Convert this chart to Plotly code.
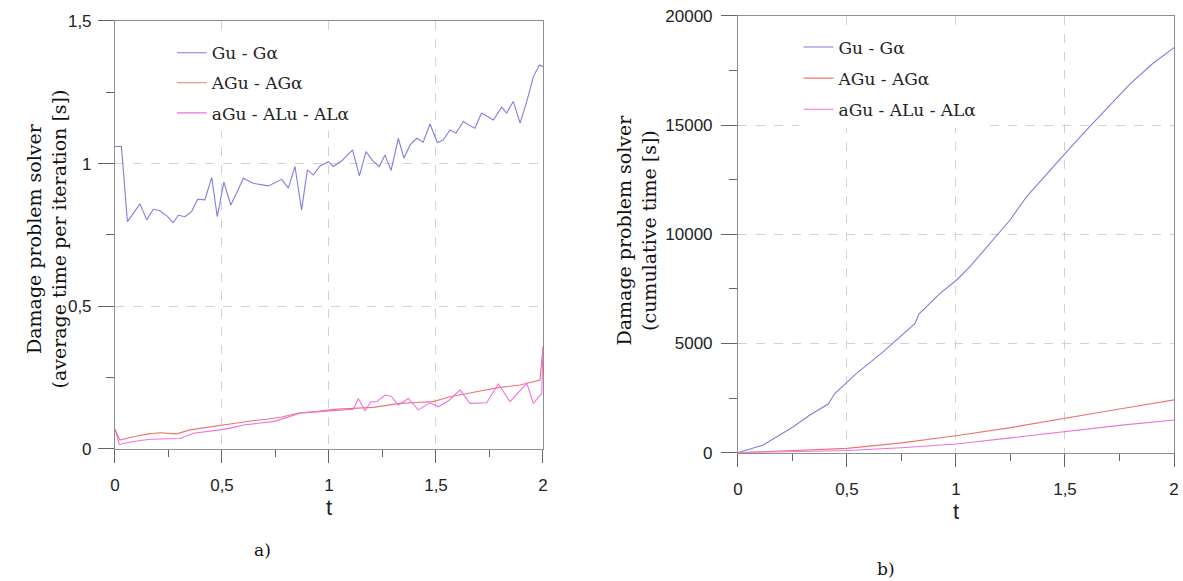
import plotly.graph_objects as go

# ---------------- data ----------------
# (a) average time per iteration
t_blue = [0, 0.03, 0.058, 0.117, 0.148, 0.179, 0.21, 0.245, 0.272, 0.296,
          0.327, 0.358, 0.386, 0.42, 0.452, 0.478, 0.509, 0.541, 0.57, 0.60,
          0.646, 0.717, 0.779, 0.81, 0.841, 0.872, 0.899, 0.927, 0.958, 0.997,
          1.02, 1.06, 1.11, 1.142, 1.173, 1.205, 1.235, 1.262, 1.29, 1.324,
          1.35, 1.379, 1.41, 1.44, 1.472, 1.506, 1.534, 1.565, 1.593, 1.628,
          1.655, 1.682, 1.713, 1.74, 1.768, 1.807, 1.83, 1.861, 1.893, 1.925,
          1.955, 1.983, 2.0]
avg_gu = [1.06, 1.06, 0.797, 0.859, 0.803, 0.840, 0.835, 0.815, 0.793, 0.819,
          0.814, 0.832, 0.875, 0.873, 0.952, 0.814, 0.935, 0.855, 0.90, 0.949,
          0.931, 0.922, 0.945, 0.914, 0.990, 0.838, 0.978, 0.960, 0.992, 1.007,
          0.990, 1.010, 1.048, 0.957, 1.042, 1.010, 0.990, 1.030, 0.976, 1.089,
          1.019, 1.066, 1.089, 1.075, 1.139, 1.074, 1.083, 1.118, 1.107, 1.148,
          1.135, 1.124, 1.177, 1.165, 1.153, 1.198, 1.177, 1.218, 1.142, 1.22,
          1.305, 1.346, 1.34]

t_red = [0, 0.023, 0.086, 0.15, 0.21, 0.288, 0.35, 0.42, 0.49, 0.55,
         0.6, 0.65, 0.709, 0.78, 0.864, 0.942, 1.02, 1.114, 1.207, 1.27,
         1.332, 1.41, 1.487, 1.565, 1.643, 1.72, 1.799, 1.893, 1.986, 2.0]
avg_agu = [0.069, 0.031, 0.043, 0.052, 0.057, 0.053, 0.067, 0.075, 0.084, 0.09,
           0.096, 0.10, 0.104, 0.112, 0.127, 0.131, 0.139, 0.142, 0.146, 0.153,
           0.160, 0.163, 0.166, 0.183, 0.195, 0.205, 0.216, 0.224, 0.242, 0.358]

t_pink = [0, 0.02, 0.086, 0.164, 0.25, 0.304, 0.366, 0.43, 0.49, 0.55,
          0.6, 0.67, 0.74, 0.8, 0.864, 0.94, 1.02, 1.114, 1.137, 1.168,
          1.195, 1.223, 1.262, 1.29, 1.324, 1.371, 1.417, 1.472, 1.511, 1.56,
          1.612, 1.659, 1.737, 1.791, 1.846, 1.924, 1.955, 1.994, 2.0]
avg_agu_alu = [0.07, 0.016, 0.026, 0.034, 0.036, 0.037, 0.055, 0.06, 0.067, 0.075,
               0.084, 0.09, 0.096, 0.11, 0.125, 0.13, 0.134, 0.139, 0.177, 0.134,
               0.165, 0.166, 0.189, 0.185, 0.154, 0.177, 0.137, 0.162, 0.148, 0.17,
               0.207, 0.160, 0.162, 0.228, 0.166, 0.230, 0.160, 0.195, 0.36]

# (b) cumulative time
t_cum_blue = [0, 0.116, 0.254, 0.33, 0.414, 0.445, 0.544, 0.667, 0.812, 0.83,
              0.927, 1.003, 1.064, 1.171, 1.248, 1.324, 1.431, 1.5, 1.6, 1.7,
              1.8, 1.9, 2.0]
cum_gu = [0, 353, 1191, 1727, 2230, 2720, 3636, 4626, 5926, 6350,
          7300, 7909, 8519, 9741, 10657, 11725, 12947, 13700, 14800, 15850,
          16900, 17800, 18550]
t_cum = [0, 0.25, 0.5, 0.75, 1.0, 1.25, 1.5, 1.75, 2.0]
cum_agu = [0, 90, 200, 450, 780, 1150, 1560, 2000, 2420]
cum_agu_alu = [0, 40, 100, 230, 400, 680, 980, 1250, 1500]

series_names = ["Gu - Gα", "AGu - AGα", "aGu - ALu - ALα"]
series_colors = ["#7f7de0", "#ef7474", "#ef72de"]

x_tickvals = [0, 0.5, 1, 1.5, 2]
x_ticktext = ["0", "0,5", "1", "1,5", "2"]
ya_tickvals = [0, 0.5, 1, 1.5]
ya_ticktext = ["0", "0,5", "1", "1,5"]
yb_tickvals = [0, 5000, 10000, 15000, 20000]
yb_ticktext = ["0", "5000", "10000", "15000", "20000"]

ytitle_a = "Damage problem solver<br>(average time per iteration [s])"
ytitle_b = "Damage problem solver<br>(cumulative time [s])"

SERIF = "DejaVu Serif"
SANS = "Liberation Sans"

fig = go.Figure()

left_data = [(t_blue, avg_gu), (t_red, avg_agu), (t_pink, avg_agu_alu)]
right_data = [(t_cum_blue, cum_gu), (t_cum, cum_agu), (t_cum, cum_agu_alu)]

for i, (tx, vy) in enumerate(left_data):
    fig.add_trace(go.Scatter(x=tx, y=vy, mode="lines", name=series_names[i],
                             line=dict(color=series_colors[i], width=1.1),
                             xaxis="x", yaxis="y", legend="legend",
                             legendgroup="a%d" % i))
for i, (tx, vy) in enumerate(right_data):
    fig.add_trace(go.Scatter(x=tx, y=vy, mode="lines", name=series_names[i],
                             line=dict(color=series_colors[i], width=1.1),
                             xaxis="x2", yaxis="y2", legend="legend2",
                             legendgroup="b%d" % i))

def axis_style(**kw):
    d = dict(showline=True, linecolor="#8f8f8f", linewidth=1, mirror=True,
             ticks="outside", tickwidth=1, tickcolor="#666",
             showgrid=True, gridcolor="#d2d2d2", griddash="dash", gridwidth=1,
             zeroline=False, automargin=False,
             tickfont=dict(family=SANS, size=17, color="#222"))
    d.update(kw)
    return d

x_minor = dict(ticks="outside", ticklen=7, tickcolor="#666", dtick=0.25, tick0=0, showgrid=False)
xt_font = dict(family=SANS, size=22, color="#222")
yt_font = dict(family=SERIF, size=19, color="#111")

fig.update_layout(
    width=1183, height=581,
    margin=dict(l=0, r=0, t=0, b=0, autoexpand=False),
    paper_bgcolor="white", plot_bgcolor="white",
    showlegend=True,
    xaxis=axis_style(domain=[0.0972, 0.459], range=[0, 2], anchor="y",
                     tickvals=x_tickvals, ticktext=x_ticktext, ticklen=13, ticklabelstandoff=8,
                     minor=x_minor,
                     title=dict(text="t", font=xt_font, standoff=2)),
    yaxis=axis_style(domain=[0.2272, 0.9639], range=[0, 1.5], anchor="x",
                     tickvals=ya_tickvals, ticktext=ya_ticktext, ticklen=16, ticklabelstandoff=3,
                     minor=dict(ticks="outside", ticklen=8, tickcolor="#666", dtick=0.25, tick0=0, showgrid=False)),
    xaxis2=axis_style(domain=[0.6238, 0.9924], range=[0, 2], anchor="y2",
                      tickvals=x_tickvals, ticktext=x_ticktext, ticklen=13, ticklabelstandoff=8,
                      minor=x_minor,
                      title=dict(text="t", font=xt_font, standoff=2)),
    yaxis2=axis_style(domain=[0.2208, 0.9725], range=[0, 20000], anchor="x2",
                      tickvals=yb_tickvals, ticktext=yb_ticktext, ticklen=16, ticklabelstandoff=5,
                      minor=dict(ticks="outside", ticklen=8, tickcolor="#666", dtick=2500, tick0=0, showgrid=False)),
    legend=dict(x=0.1452, y=0.9395, xanchor="left", yanchor="top", bgcolor="white",
                borderwidth=0, font=dict(family=SERIF, size=17, color="#222"),
                traceorder="grouped", tracegroupgap=5),
    legend2=dict(x=0.675, y=0.9492, xanchor="left", yanchor="top", bgcolor="white",
                 borderwidth=0, font=dict(family=SERIF, size=17, color="#222"),
                 traceorder="grouped", tracegroupgap=6),
    annotations=[
        # y-axis titles (rotated)
        dict(text=ytitle_a, x=0.0395, y=0.589, xref="paper", yref="paper", showarrow=False,
             textangle=-90, xanchor="center", yanchor="middle", font=yt_font),
        dict(text=ytitle_b, x=0.538, y=0.604, xref="paper", yref="paper", showarrow=False,
             textangle=-90, xanchor="center", yanchor="middle", font=yt_font),
        # panel captions
        dict(text="a)", x=0.2215, y=0.0534, xref="paper", yref="paper", showarrow=False,
             xanchor="center", yanchor="middle",
             font=dict(family=SERIF, size=17, color="#111")),
        dict(text="b)", x=0.749, y=0.0207, xref="paper", yref="paper", showarrow=False,
             xanchor="center", yanchor="middle",
             font=dict(family=SERIF, size=17, color="#111")),
    ],
)

fig.write_html("out.html")
